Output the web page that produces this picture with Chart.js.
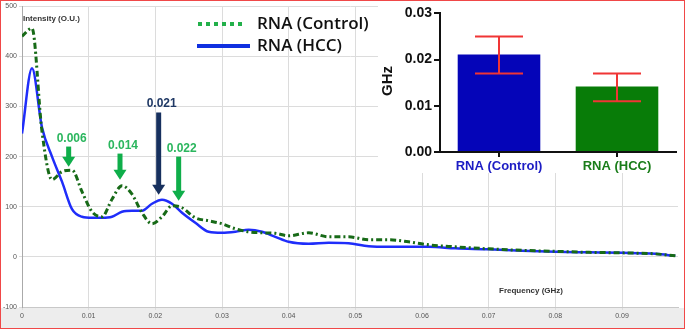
<!DOCTYPE html>
<html>
<head>
<meta charset="utf-8">
<script src="https://cdn.jsdelivr.net/npm/chart.js@4.4.0/dist/chart.umd.min.js"></script>
<style>
    html, body { margin: 0; padding: 0; background: #fff; }
    #wrap { position: relative; width: 685px; height: 329px; overflow: hidden; }
    #main { position: absolute; left: 0; top: 0; }
    #inset { position: absolute; left: 378px; top: 3px; background: #fff; }
    #frame { position: absolute; left: 0; top: 0; width: 683px; height: 327px; border: 1px solid #f04848; pointer-events: none; }
</style>
</head>
<body>
<div id="wrap">
    <canvas id="main" width="685" height="329"></canvas>
    <canvas id="inset" width="305" height="170"></canvas>
    <div id="frame"></div>
</div>
<script>
// main spectrum (frequency in GHz, intensity in O.U.)
const freq = [0, 0.0015, 0.003, 0.0045, 0.006, 0.0075, 0.009, 0.0105, 0.012, 0.0135,
    0.015, 0.0165, 0.018, 0.0195, 0.021, 0.0225, 0.024, 0.026, 0.028, 0.030,
    0.032, 0.034, 0.036, 0.038, 0.040, 0.043, 0.046, 0.049, 0.052, 0.055,
    0.058, 0.061, 0.065, 0.070, 0.075, 0.080, 0.085, 0.090, 0.095, 0.098];
const rnaControl = [440, 456, 250, 154, 170, 173, 130, 90, 80, 115,
    142, 125, 88, 66, 80, 102, 98, 78, 72, 66,
    56, 50, 48, 47, 42, 48, 40, 40, 34, 34,
    30, 24, 20, 16, 13, 11, 9, 8, 6, 2];
const rnaHcc = [246, 376, 258, 200, 150, 95, 80, 78, 78, 80,
    90, 92, 92, 106, 114, 106, 88, 68, 50, 48,
    50, 54, 50, 40, 30, 26, 28, 27, 21, 20,
    20, 20, 17, 15, 12, 10, 9, 8, 6, 2];
const yTicks = [-100, 0, 100, 200, 300, 400, 500];

// peak markers: frequency, arrow tip / tail intensity
const peakLabels = ['0.006', '0.014', '0.021', '0.022'];
const peakFreq = [0.0070, 0.0147, 0.0205, 0.0235];
const peakTip = [180, 154, 124, 112];
const peakTail = [220, 206, 288, 200];

// inset bar chart
const groups = ['RNA (Control)', 'RNA (HCC)'];
const meanGHz = [0.0211, 0.0142];
const errLow = [0.017, 0.011];
const errHigh = [0.025, 0.017];

const FONT = "'Liberation Sans', Arial, sans-serif";

const mainDecor = {
    id: 'mainDecor',
    beforeDraw(chart) {
        const {ctx, chartArea} = chart;
        ctx.save();
        ctx.fillStyle = '#fff';
        ctx.fillRect(0, 0, chart.width, chart.height);
        ctx.fillStyle = '#ededed';
        ctx.fillRect(0, chartArea.bottom + 1, chart.width, chart.height - chartArea.bottom);
        ctx.restore();
    },
    afterDatasetsDraw(chart) {
        const {ctx, chartArea} = chart;
        const xs = chart.scales.x, ys = chart.scales.y;
        ctx.save();
        // axis captions
        ctx.fillStyle = '#333';
        ctx.font = `bold 8px ${FONT}`;
        ctx.textBaseline = 'middle';
        ctx.textAlign = 'left';
        ctx.fillText('Intensity (O.U.)', chartArea.left + 1, 19);
        ctx.fillText('Frequency (GHz)', 499, 291);

        // arrows
        peakLabels.forEach((lab, i) => {
            const navy = lab === '0.021';
            const col = navy ? '#17305e' : '#0fae4a';
            const x = xs.getPixelForValue(peakFreq[i]);
            const yTip = ys.getPixelForValue(peakTip[i]);
            const yTail = ys.getPixelForValue(peakTail[i]);
            const headH = 10, headW = 13;
            ctx.fillStyle = col;
            ctx.fillRect(x - 2.5, yTail, 5, yTip - yTail - headH + 1);
            ctx.beginPath();
            ctx.moveTo(x - headW / 2, yTip - headH);
            ctx.lineTo(x + headW / 2, yTip - headH);
            ctx.lineTo(x, yTip);
            ctx.closePath();
            ctx.fill();
            ctx.fillStyle = navy ? '#1f3864' : '#2bb65e';
            ctx.font = `bold 12px ${FONT}`;
            ctx.textAlign = 'center';
            ctx.textBaseline = 'alphabetic';
            ctx.fillText(lab, x + 3, yTail - 5);
        });

        // legend
        ctx.lineWidth = 4;
        ctx.strokeStyle = '#22b04a';
        ctx.setLineDash([4, 4]);
        ctx.beginPath();
        ctx.moveTo(198, 24);
        ctx.lineTo(246, 24);
        ctx.stroke();
        ctx.setLineDash([]);
        ctx.strokeStyle = '#1030e0';
        ctx.beginPath();
        ctx.moveTo(197, 46);
        ctx.lineTo(250, 46);
        ctx.stroke();
        ctx.fillStyle = '#111';
        ctx.font = `600 17px 'Open Sans', sans-serif`;
        ctx.textAlign = 'left';
        ctx.textBaseline = 'middle';
        ctx.fillText('RNA (Control)', 257, 24);
        ctx.fillText('RNA (HCC)', 257, 46);
        ctx.restore();
    }
};

new Chart(document.getElementById('main'), {
    type: 'line',
    data: {
        datasets: [{
            label: 'RNA (Control)',
            data: freq.map((f, i) => ({x: f, y: rnaControl[i]})),
            borderColor: '#176a17',
            borderWidth: 3,
            borderDash: [6, 3, 2, 3],
            pointRadius: 0,
            cubicInterpolationMode: 'monotone'
        }, {
            label: 'RNA (HCC)',
            data: freq.map((f, i) => ({x: f, y: rnaHcc[i]})),
            borderColor: '#1f2dfa',
            borderWidth: 2.5,
            pointRadius: 0,
            cubicInterpolationMode: 'monotone'
        }]
    },
    options: {
        responsive: false,
        animation: false,
        layout: {padding: {top: 6, right: 7, left: 0, bottom: 0}},
        plugins: {legend: {display: false}, tooltip: {enabled: false}},
        scales: {
            x: {
                type: 'linear',
                min: 0,
                max: 0.0984,
                afterFit: s => { s.height = 22; },
                afterBuildTicks: s => {
                    s.ticks = s.ticks.filter(t => Math.abs(t.value * 100 - Math.round(t.value * 100)) < 1e-6);
                },
                ticks: {
                    stepSize: 0.01,
                    padding: 2,
                    maxRotation: 0,
                    color: '#555',
                    font: {size: 7, family: FONT},
                    callback: v => v === 0 ? '0' : v.toFixed(2)
                },
                grid: {color: '#dcdcdc', tickLength: 3},
                border: {color: '#c8c8c8'}
            },
            y: {
                min: -100,
                max: 500,
                afterFit: s => { s.width = 22; },
                afterBuildTicks: s => { s.ticks = yTicks.map(v => ({value: v})); },
                ticks: {
                    padding: 2,
                    color: '#555',
                    font: {size: 7, family: FONT}
                },
                grid: {color: '#dcdcdc', tickLength: 3},
                border: {color: '#aaa'}
            }
        }
    },
    plugins: [mainDecor]
});

const insetDecor = {
    id: 'insetDecor',
    afterDatasetsDraw(chart) {
        const {ctx} = chart;
        const meta = chart.getDatasetMeta(0);
        const ys = chart.scales.y;
        ctx.save();
        ctx.strokeStyle = '#f03535';
        ctx.lineWidth = 2;
        meta.data.forEach((bar, i) => {
            const yHi = ys.getPixelForValue(errHigh[i]);
            const yLo = ys.getPixelForValue(errLow[i]);
            ctx.beginPath();
            ctx.moveTo(bar.x, yHi);
            ctx.lineTo(bar.x, yLo);
            ctx.moveTo(bar.x - 24, yHi);
            ctx.lineTo(bar.x + 24, yHi);
            ctx.moveTo(bar.x - 24, yLo);
            ctx.lineTo(bar.x + 24, yLo);
            ctx.stroke();
        });
        ctx.translate(10, 78);
        ctx.rotate(-Math.PI / 2);
        ctx.fillStyle = '#111';
        ctx.font = `bold 15px ${FONT}`;
        ctx.textAlign = 'center';
        ctx.textBaseline = 'middle';
        ctx.fillText('GHz', 0, 0);
        ctx.restore();
    }
};

new Chart(document.getElementById('inset'), {
    type: 'bar',
    data: {
        labels: groups,
        datasets: [{
            data: meanGHz,
            backgroundColor: ['#0505b8', '#087c08'],
            barPercentage: 0.7,
            categoryPercentage: 1.0
        }]
    },
    options: {
        responsive: false,
        animation: false,
        layout: {padding: {top: 10, right: 7, left: 0, bottom: 0}},
        plugins: {legend: {display: false}, tooltip: {enabled: false}},
        scales: {
            x: {
                afterFit: s => { s.height = 21; },
                ticks: {
                    padding: 2,
                    color: ['#1c1cc4', '#1a7d1a'],
                    font: {size: 13, weight: 'bold', family: FONT}
                },
                grid: {display: true, drawOnChartArea: false, offset: false, tickLength: 5, color: '#111', lineWidth: 2},
                border: {color: '#111', width: 2}
            },
            y: {
                min: 0,
                max: 0.03,
                afterFit: s => { s.width = 62; },
                ticks: {
                    stepSize: 0.01,
                    padding: 2,
                    color: '#111',
                    font: {size: 14, weight: 'bold', family: FONT},
                    callback: v => v.toFixed(2)
                },
                grid: {display: true, drawOnChartArea: false, tickLength: 6, color: '#111', lineWidth: 2},
                border: {color: '#111', width: 2}
            }
        }
    },
    plugins: [insetDecor]
});
</script>
</body>
</html>
